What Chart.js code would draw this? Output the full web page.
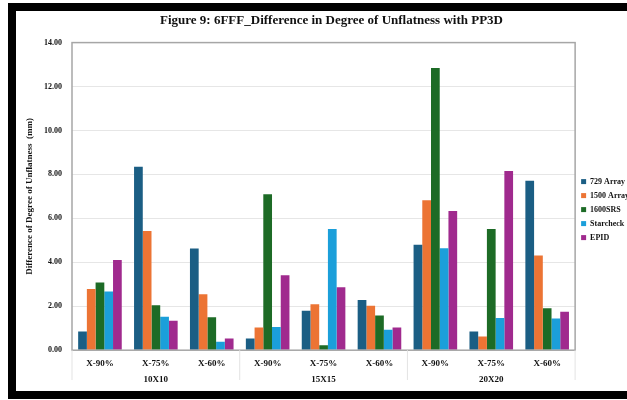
<!DOCTYPE html>
<html>
<head>
  <script src="https://cdn.jsdelivr.net/npm/chart.js@4.4.0/dist/chart.umd.min.js"></script>
  <style>
    body { margin: 0; background: #ffffff; }
    #frame {
      position: absolute;
      left: 8px; top: 3px;
      width: 611px; height: 380px;
      border-left: 8px solid #000;
      border-top: 8px solid #000;
      border-bottom: 8px solid #000;
    }
    #wrap { position: absolute; left: 0; top: 0; width: 627px; height: 400px; }
  </style>
</head>
<body>
  <div id="frame"></div>
  <div id="wrap"><canvas id="chart" width="627" height="400"></canvas></div>

  <script>
    // categories
    var cats = ['X-90%', 'X-75%', 'X-60%', 'X-90%', 'X-75%', 'X-60%', 'X-90%', 'X-75%', 'X-60%'];
    var groups = ['10X10', '15X15', '20X20'];
    var yTicks = [0, 2, 4, 6, 8, 10, 12, 14];

    // series values
    var arr729 = [0.85, 8.35, 4.63, 0.53, 1.79, 2.29, 4.80, 0.85, 7.71];
    var arr1500 = [2.78, 5.43, 2.55, 1.03, 2.09, 2.02, 6.83, 0.62, 4.31];
    var srs1600 = [3.08, 2.05, 1.50, 7.10, 0.23, 1.58, 12.84, 5.52, 1.91];
    var starcheck = [2.67, 1.52, 0.38, 1.06, 5.52, 0.93, 4.64, 1.46, 1.44];
    var epid = [4.10, 1.34, 0.53, 3.41, 2.87, 1.03, 6.34, 8.16, 1.75];

    var serif = '"Liberation Serif", "Times New Roman", serif';

    // plot box + group separators
    var boxPlugin = {
      id: 'boxPlugin',
      afterDraw: function(chart) {
        var ctx = chart.ctx;
        var a = chart.chartArea;
        var x = chart.scales.x;
        var step = x.getPixelForValue(1) - x.getPixelForValue(0);
        ctx.save();
        ctx.strokeStyle = '#a6a6a6';
        ctx.lineWidth = 1.5;
        ctx.strokeRect(a.left, a.top, a.right - a.left, a.bottom - a.top);
        ctx.strokeStyle = '#e3e3e3';
        ctx.lineWidth = 1;
        for (var g = 0; g <= groups.length; g++) {
          var px = g < groups.length ? x.getPixelForValue(g * 3) - step / 2 : a.right;
          ctx.beginPath();
          ctx.moveTo(px, a.bottom);
          ctx.lineTo(px, chart.scales.x2.bottom - 5);
          ctx.stroke();
        }
        ctx.restore();
      }
    };

    var ctx = document.getElementById('chart').getContext('2d');
    var chart = new Chart(ctx, {
      type: 'bar',
      data: {
        labels: cats,
        datasets: [
          { label: '729 Array', data: arr729, backgroundColor: '#1b5e84' },
          { label: '1500 Array', data: arr1500, backgroundColor: '#ec7434' },
          { label: '1600SRS', data: srs1600, backgroundColor: '#1d6b26' },
          { label: 'Starcheck', data: starcheck, backgroundColor: '#1b9fda' },
          { label: 'EPID', data: epid, backgroundColor: '#a02a8e' }
        ]
      },
      options: {
        responsive: false,
        animation: false,
        layout: { padding: { left: 24, right: -12, top: 13, bottom: 15 } },
        datasets: { bar: { categoryPercentage: 0.78, barPercentage: 1.0, borderWidth: 0 } },
        plugins: {
          title: {
            display: true,
            text: 'Figure 9: 6FFF_Difference in Degree of Unflatness with PP3D',
            color: '#111',
            font: { family: serif, size: 13, weight: 'bold' },
            padding: { top: 0, bottom: 14 }
          },
          legend: {
            position: 'right',
            title: { display: true, text: ' ', font: { size: 1 }, padding: { top: 20, bottom: 0 } },
            labels: {
              boxWidth: 5, boxHeight: 5, padding: 6,
              color: '#111',
              font: { family: serif, size: 8, weight: 'bold' }
            }
          },
          tooltip: { enabled: false }
        },
        scales: {
          x: {
            grid: { display: false },
            border: { display: false },
            ticks: {
              color: '#111', padding: 0, maxRotation: 0,
              font: { family: serif, size: 9, weight: 'bold' }
            }
          },
          x2: {
            type: 'category',
            labels: groups,
            position: 'bottom',
            afterFit: function(s) { s.height = 16; },
            grid: { display: false },
            border: { display: false },
            ticks: {
              color: '#111', padding: -3,
              font: { family: serif, size: 9, weight: 'bold' }
            }
          },
          y: {
            min: 0, max: 14,
            afterFit: function(s) { s.width = 48; },
            afterBuildTicks: function(s) { s.ticks = yTicks.map(function(v) { return { value: v }; }); },
            grid: { color: '#e6e6e6', drawTicks: false },
            border: { display: false },
            title: {
              display: true,
              text: 'Difference of Degree of Unflatness  (mm)',
              color: '#111',
              font: { family: serif, size: 9, weight: 'bold' },
              padding: 0
            },
            ticks: {
              color: '#111', padding: 10,
              font: { family: serif, size: 8, weight: 'bold' },
              callback: function(v) { return Number(v).toFixed(2); }
            }
          }
        }
      },
      plugins: [boxPlugin]
    });
  </script>
</body>
</html>
